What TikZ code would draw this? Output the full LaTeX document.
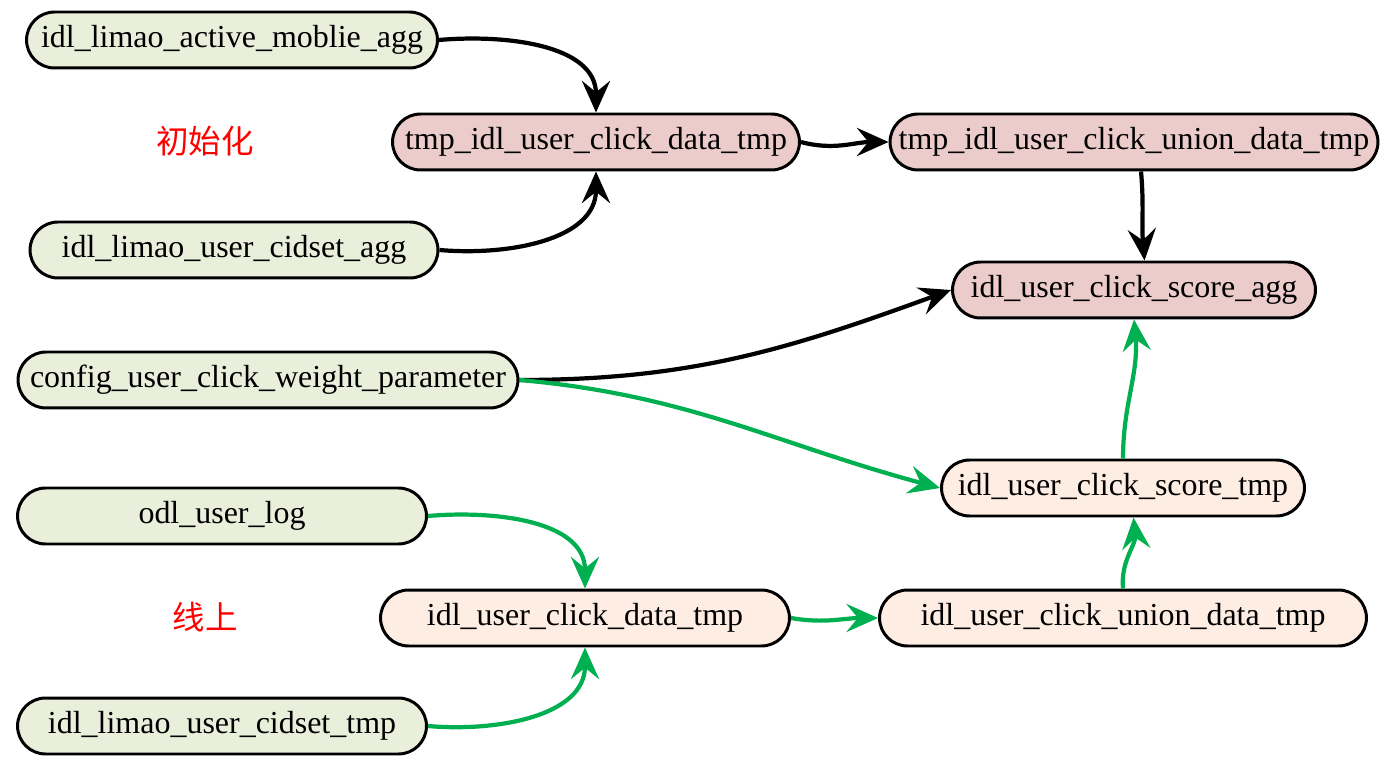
\documentclass[tikz,border=0pt]{standalone}
\usepackage{fontspec}
\setmainfont{Liberation Serif}
\newfontfamily\cjk{Noto Sans CJK SC}
\usepackage{xcolor}
\usetikzlibrary{arrows.meta}
\definecolor{srcgreen}{RGB}{234,239,220}
\definecolor{initpink}{RGB}{236,203,203}
\definecolor{onpeach}{RGB}{253,237,226}
\definecolor{flowgreen}{RGB}{0,176,80}

\begin{document}
\begin{tikzpicture}[x=0.02cm,y=-0.02cm,
	tbl/.style={draw=black,line width=1.7pt,rounded corners=0.56cm,minimum height=1.12cm,
		inner sep=0pt,font=\fontsize{18.2}{21}\selectfont},
	src/.style={tbl,fill=srcgreen},
	ini/.style={tbl,fill=initpink},
	onl/.style={tbl,fill=onpeach},
	flow/.style={line width=2.4pt,-{Stealth[length=18pt,width=16pt,inset=6.5pt]}},
	tag/.style={text=red,font=\cjk\fontsize{18.5}{21}\selectfont}]
	\useasboundingbox (0,0) rectangle (1389,766);

	\node[src,minimum width=8.22cm] at (232,40)  (moblie) {idl\_limao\_active\_moblie\_agg};
	\node[src,minimum width=8.16cm] at (234,250) (cidsetagg) {idl\_limao\_user\_cidset\_agg};
	\node[src,minimum width=10.0cm] at (268,380) (weight) {config\_user\_click\_weight\_parameter};
	\node[src,minimum width=8.18cm] at (222,516) (odllog) {odl\_user\_log};
	\node[src,minimum width=8.18cm] at (222,726) (cidsettmp) {idl\_limao\_user\_cidset\_tmp};

	\node[ini,minimum width=8.14cm] at (596,142)  (tmpdata) {tmp\_idl\_user\_click\_data\_tmp};
	\node[ini,minimum width=9.76cm] at (1134,142) (tmpunion) {tmp\_idl\_user\_click\_union\_data\_tmp};
	\node[ini,minimum width=7.26cm] at (1134,290) (scoreagg) {idl\_user\_click\_score\_agg};

	\node[onl,minimum width=7.26cm] at (1123,488) (scoretmp) {idl\_user\_click\_score\_tmp};
	\node[onl,minimum width=8.18cm] at (585,618)  (data) {idl\_user\_click\_data\_tmp};
	\node[onl,minimum width=9.74cm] at (1123,618) (union) {idl\_user\_click\_union\_data\_tmp};

	\node[tag] at (205,141) (init) {初始化};
	\node[tag] at (205,617) (online) {线上};

	% init flow
	\draw[flow] (moblie.east) to[out=5,in=90] (tmpdata.north);
	\draw[flow] (cidsetagg.east) to[out=-5,in=-90] (tmpdata.south);
	\draw[flow] (tmpdata.east) to[out=-15,in=180] (tmpunion.west);
	\draw[flow] ([xshift=4]tmpunion.south) to[out=-85,in=95] ([xshift=6]scoreagg.north);
	\draw[flow] (weight.east) to[out=0,in=200] (scoreagg.west);

	% online flow
	\draw[flow,flowgreen] (weight.east) to[out=-5,in=165] (scoretmp.west);
	\draw[flow,flowgreen] (odllog.east) to[out=5,in=90] (data.north);
	\draw[flow,flowgreen] (cidsettmp.east) to[out=-5,in=-90] (data.south);
	\draw[flow,flowgreen] (data.east) to[out=-10,in=180] (union.west);
	\draw[flow,flowgreen] (union.north) to[out=95,in=-85] ([xshift=6]scoretmp.south);
	\draw[flow,flowgreen] (scoretmp.north) to[out=90,in=-85] (scoreagg.south);
\end{tikzpicture}
\end{document}
